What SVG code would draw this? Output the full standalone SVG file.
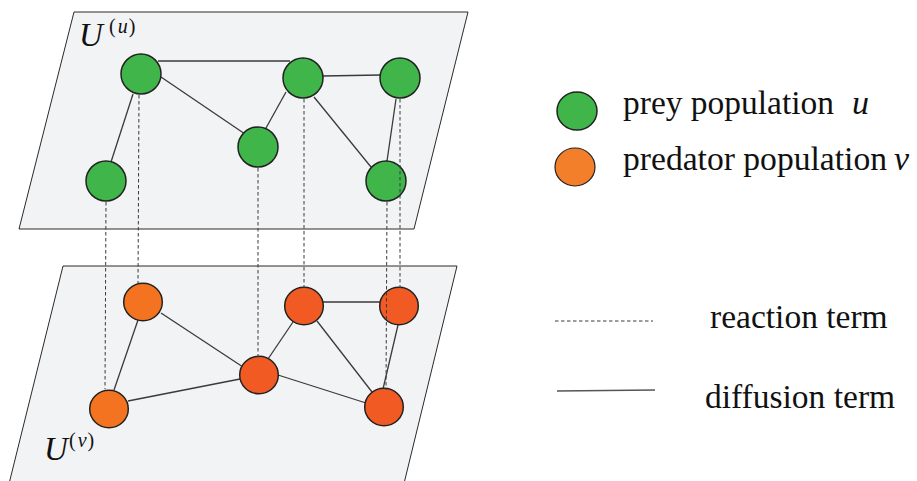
<svg xmlns="http://www.w3.org/2000/svg" width="917" height="481" viewBox="0 0 917 481">
<style>
.plane{fill:#f2f3f5;stroke:#2a2a2a;stroke-width:1}
.diff{stroke:#3a3a3a;stroke-width:1.3;fill:none}
.react{stroke:#3a3a3a;stroke-width:1;stroke-dasharray:3.5,2.5;fill:none}
.g{fill:#3fb54a;stroke:#222;stroke-width:1.5}
.o1{fill:#f47321;stroke:#222;stroke-width:1.5}
.o2{fill:#f15a22;stroke:#222;stroke-width:1.5}
.t{font-family:"Liberation Serif","Times New Roman",serif;fill:#111}
.it{font-style:italic}
</style>
<rect width="917" height="481" fill="#ffffff"/>
<g id="plane-u"><polygon class="plane" points="74,12 468,12 414,229 19,229"/></g>
<g id="plane-v"><polygon class="plane" points="63,266 457,266 400,500 5,500"/></g>
<g id="label-u"><text class="t it" x="79" y="46" font-size="33">U</text><text class="t" x="109" y="33" font-size="20">(<tspan class="it" dx="2">u</tspan><tspan dx="1">)</tspan></text></g>
<g id="label-v"><text class="t it" x="44" y="460" font-size="33">U</text><text class="t" x="69" y="447" font-size="20">(<tspan class="it" dx="2">ν</tspan><tspan dx="1">)</tspan></text></g>
<g id="connectors">
<line class="diff" x1="158" y1="61" x2="290" y2="61"/>
<line class="diff" x1="161" y1="77" x2="245" y2="134"/>
<line class="diff" x1="133" y1="94" x2="111" y2="162"/>
<line class="diff" x1="286" y1="92" x2="266" y2="128"/>
<line class="diff" x1="322" y1="76" x2="381" y2="75"/>
<line class="diff" x1="314" y1="97" x2="371" y2="167"/>
<line class="diff" x1="396" y1="99" x2="387" y2="161"/>
<line class="diff" x1="138" y1="320" x2="114" y2="390"/>
<line class="diff" x1="161" y1="313" x2="243" y2="367"/>
<line class="diff" x1="128" y1="401" x2="240" y2="379"/>
<line class="diff" x1="268" y1="359" x2="293" y2="322"/>
<line class="diff" x1="278" y1="375" x2="366" y2="403"/>
<line class="diff" x1="323" y1="302" x2="380" y2="302" stroke-width="1.8"/>
<line class="diff" x1="317" y1="321" x2="372" y2="392"/>
<line class="diff" x1="398" y1="325" x2="383" y2="389"/>
</g>
<g id="u1"><circle class="g" cx="141" cy="74" r="20"/></g>
<g id="u2"><circle class="g" cx="303" cy="78" r="20"/></g>
<g id="u3"><circle class="g" cx="400" cy="78" r="20"/></g>
<g id="u4"><circle class="g" cx="258" cy="147" r="20"/></g>
<g id="u5"><circle class="g" cx="106" cy="181" r="20"/></g>
<g id="u6"><circle class="g" cx="386" cy="181" r="20"/></g>
<g id="v1"><ellipse class="o1" cx="143" cy="302" rx="19.3" ry="18.7"/></g>
<g id="v2"><ellipse class="o2" cx="304" cy="306" rx="19.3" ry="18.7"/></g>
<g id="v3"><ellipse class="o2" cx="399" cy="306" rx="19.3" ry="18.7"/></g>
<g id="v4"><ellipse class="o2" cx="259" cy="375" rx="19.3" ry="18.7"/></g>
<g id="v5"><ellipse class="o1" cx="109" cy="409" rx="19.3" ry="18.7"/></g>
<g id="v6"><ellipse class="o2" cx="384" cy="407" rx="19.3" ry="18.7"/></g>
<g id="reaction-connectors">
<line class="react" x1="106" y1="202" x2="105" y2="389"/>
<line class="react" x1="139" y1="95" x2="138" y2="284"/>
<line class="react" x1="258" y1="168" x2="258" y2="360"/>
<line class="react" x1="304" y1="99" x2="304" y2="288"/>
<line class="react" x1="387" y1="202" x2="386" y2="390"/>
<line class="react" x1="400" y1="99" x2="400" y2="288"/>
</g>
<g id="legend">
<ellipse class="g" cx="577" cy="111" rx="20" ry="19" stroke-width="1.2"/>
<ellipse cx="575" cy="167" rx="20" ry="19" fill="#f47f2a" stroke="#222" stroke-width="1.2"/>
<text class="t" x="623" y="114" font-size="34" textLength="211" lengthAdjust="spacingAndGlyphs">prey population</text>
<text class="t it" x="852" y="114" font-size="34">u</text>
<text class="t" x="623" y="170" font-size="34" textLength="264" lengthAdjust="spacingAndGlyphs">predator population</text>
<text class="t it" x="894" y="170" font-size="34">ν</text>
<line class="react" x1="555" y1="321" x2="653" y2="321"/>
<line x1="557" y1="391" x2="655" y2="390" stroke="#555" stroke-width="1.3"/>
<text class="t" x="710" y="328" font-size="33.5">reaction term</text>
<text class="t" x="705" y="408" font-size="33.5">diffusion term</text>
</g>
</svg>
